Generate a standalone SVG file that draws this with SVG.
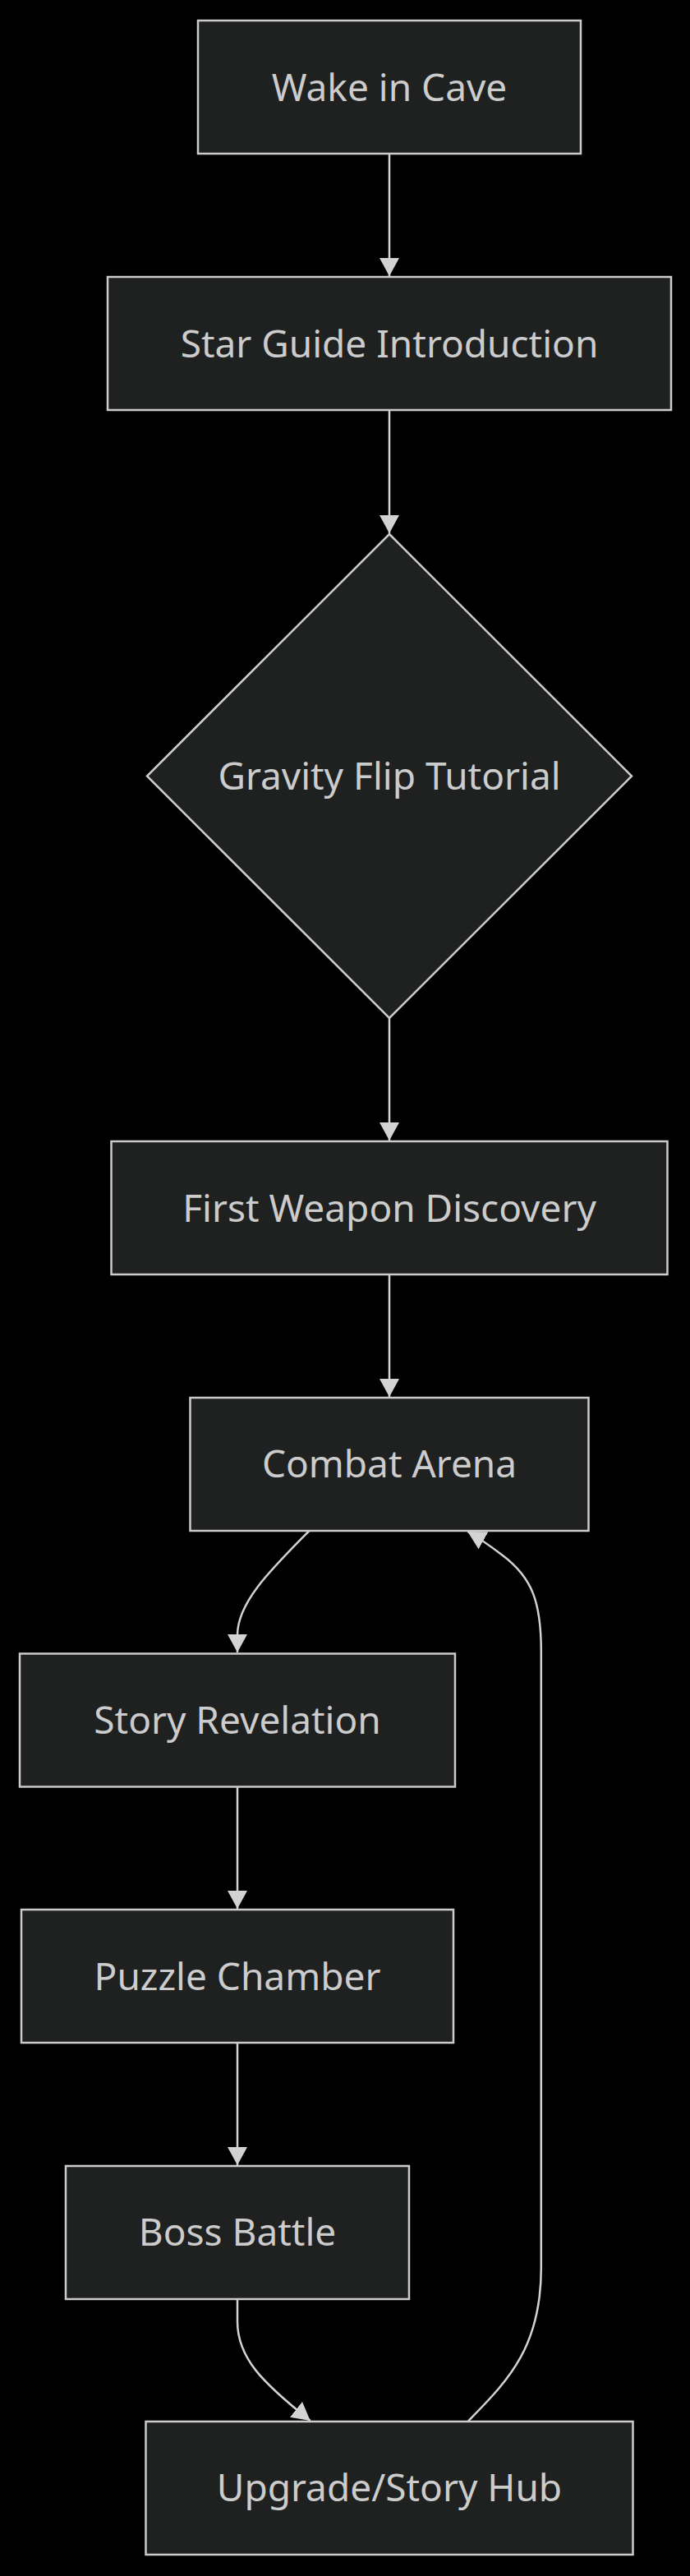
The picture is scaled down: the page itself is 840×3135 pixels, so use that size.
<svg xmlns="http://www.w3.org/2000/svg" width="840" height="3135" viewBox="0 0 840 3135">
<style>
.node rect, .node polygon { fill: #1f2020; stroke: #cccccc; stroke-width: 2.5; }
.node text { font-family: "Noto Sans", "DejaVu Sans", sans-serif; font-size: 46px; fill: #cccccc; text-anchor: middle; }
.edge { fill: none; stroke: #d3d3d3; stroke-width: 2.5; marker-end: url(#arrow); }
</style>
<defs>
<marker id="arrow" viewBox="0 0 10 10" refX="10" refY="5" markerUnits="userSpaceOnUse" markerWidth="22" markerHeight="24" preserveAspectRatio="none" orient="auto">
<path d="M0,0 L10,5 L0,10 z" fill="#d3d3d3"/>
</marker>
</defs>
<rect x="0" y="0" width="840" height="3135" fill="#000000"/>
<g id="connectors">
<path class="edge" d="M474,187 L474,336"/>
<path class="edge" d="M474,499 L474,649"/>
<path class="edge" d="M474,1239 L474,1388"/>
<path class="edge" d="M474,1551 L474,1700"/>
<path class="edge" d="M376.5,1863 C330,1910 289,1950 289,1990 L289,2011"/>
<path class="edge" d="M289,2175 L289,2323"/>
<path class="edge" d="M289,2486 L289,2635"/>
<path class="edge" d="M289,2798 L289,2825 C289,2870 320,2900 377.7,2946"/>
<path class="edge" d="M569.6,2947 C615,2900 658.8,2860 658.8,2760 L658.8,2010 C658.8,1950 648,1920 612,1893 C595,1880 580,1870 569.3,1864"/>
</g>
<g id="node-wake" class="node">
<rect x="241" y="25" width="466" height="162"/>
<text x="474" y="122.5">Wake in Cave</text>
</g>
<g id="node-star" class="node">
<rect x="131" y="337" width="686" height="162"/>
<text x="474" y="434.5">Star Guide Introduction</text>
</g>
<g id="node-gravity" class="node">
<polygon points="474,650 769,944.5 474,1239 179,944.5"/>
<text x="474" y="960.5">Gravity Flip Tutorial</text>
</g>
<g id="node-weapon" class="node">
<rect x="135.5" y="1389" width="677" height="162"/>
<text x="474" y="1486.5">First Weapon Discovery</text>
</g>
<g id="node-combat" class="node">
<rect x="231.5" y="1701" width="485" height="162"/>
<text x="474" y="1798">Combat Arena</text>
</g>
<g id="node-story" class="node">
<rect x="24" y="2012.5" width="530" height="162"/>
<text x="289" y="2109.5">Story Revelation</text>
</g>
<g id="node-puzzle" class="node">
<rect x="26" y="2324" width="526" height="162"/>
<text x="289" y="2421.5">Puzzle Chamber</text>
</g>
<g id="node-boss" class="node">
<rect x="80" y="2636" width="418" height="162"/>
<text x="289" y="2733">Boss Battle</text>
</g>
<g id="node-upgrade" class="node">
<rect x="177.5" y="2947" width="593" height="162"/>
<text x="474" y="3044">Upgrade/Story Hub</text>
</g>
</svg>
